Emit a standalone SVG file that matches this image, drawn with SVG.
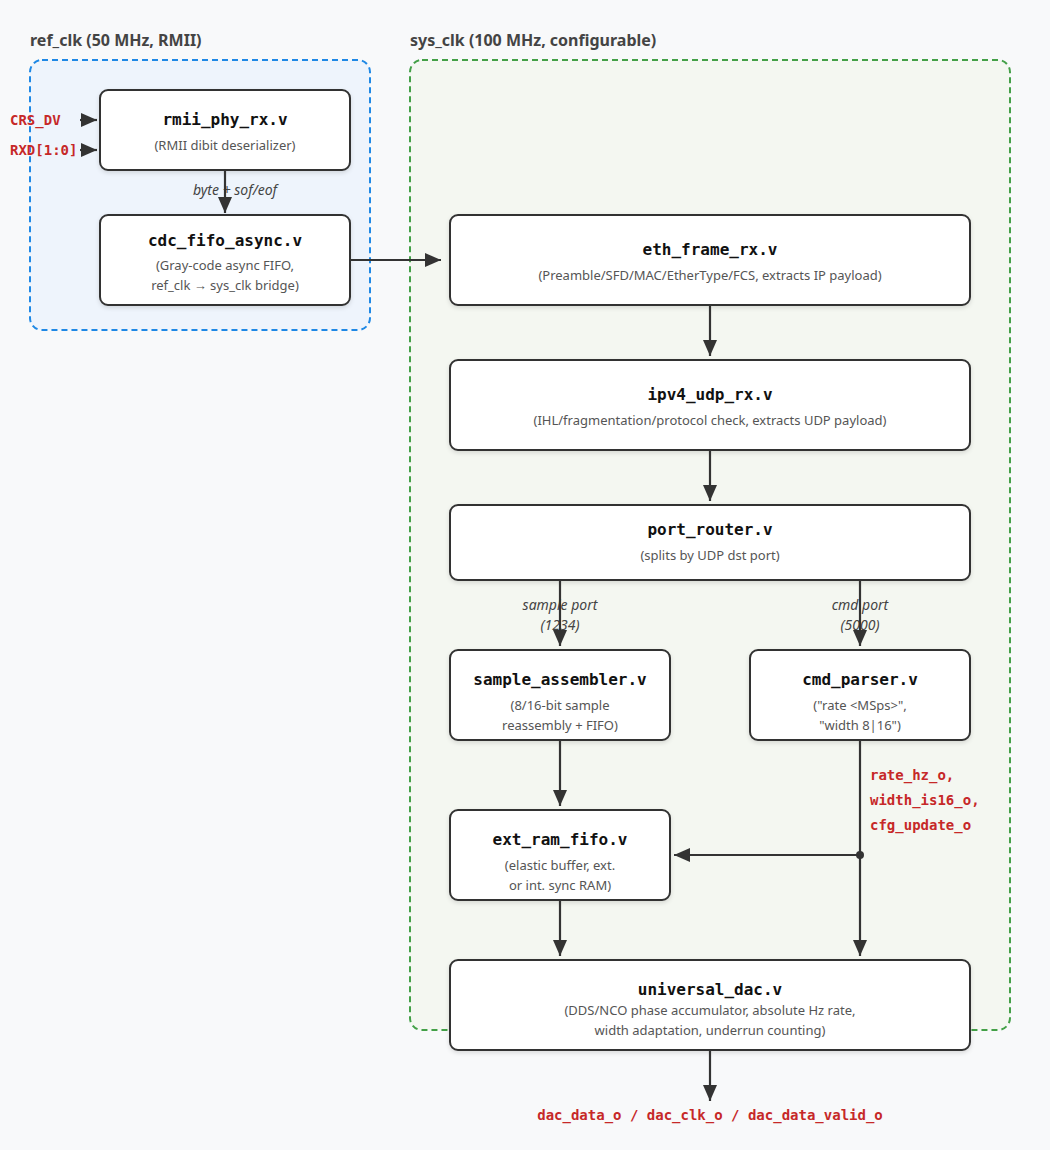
<svg xmlns="http://www.w3.org/2000/svg" width="1050" height="1150" viewBox="0 0 1050 1150">
<defs>
<marker id="arr" viewBox="0 0 16 14" refX="16" refY="7" markerWidth="16" markerHeight="14" markerUnits="userSpaceOnUse" orient="auto">
<path d="M0,0 L16,7 L0,14 z" fill="#333"/>
</marker>
<filter id="sh" x="-10%" y="-10%" width="120%" height="130%">
<feDropShadow dx="0" dy="2" stdDeviation="2" flood-color="#000" flood-opacity="0.12"/>
</filter>
<style>
.cl{font-family:"Noto Sans","Open Sans",sans-serif;font-weight:bold;font-size:16px;fill:#444}
.box{fill:#fff;stroke:#333;stroke-width:2;filter:url(#sh)}
.t{font-family:"DejaVu Sans Mono",monospace;font-weight:bold;font-size:16px;fill:#111;text-anchor:middle}
.s{font-family:"Noto Sans","Open Sans",sans-serif;font-size:13px;fill:#555;text-anchor:middle}
.e{stroke:#333;stroke-width:2.2;fill:none;marker-end:url(#arr)}
.el{font-family:"Noto Sans","Open Sans",sans-serif;font-style:italic;font-size:14px;fill:#444;text-anchor:middle}
.sig{font-family:"DejaVu Sans Mono",monospace;font-weight:bold;font-size:14px;fill:#c62828}
</style>
</defs>
<rect x="0" y="0" width="1050" height="1150" fill="#f8f9fa"/>
<g id="cluster_ref">
<rect x="30" y="60" width="340" height="270" rx="12" fill="#eef4fc" stroke="#1e88e5" stroke-width="2" stroke-dasharray="6,4"/>
<text class="cl" x="30" y="46">ref_clk (50 MHz, RMII)</text>
</g>
<g id="cluster_sys">
<rect x="410" y="60" width="600" height="970" rx="12" fill="#f4f7f1" stroke="#43a047" stroke-width="2" stroke-dasharray="6,4"/>
<text class="cl" x="410" y="46">sys_clk (100 MHz, configurable)</text>
</g>
<g id="rmii_phy_rx">
<rect class="box" x="100" y="90" width="250" height="80" rx="8"/>
<text class="t" x="225" y="125">rmii_phy_rx.v</text>
<text class="s" x="225" y="150">(RMII dibit deserializer)</text>
</g>
<g id="cdc_fifo_async">
<rect class="box" x="100" y="215" width="250" height="90" rx="8"/>
<text class="t" x="225" y="246">cdc_fifo_async.v</text>
<text class="s" x="225" y="270">(Gray-code async FIFO,</text>
<text class="s" x="225" y="290">ref_clk → sys_clk bridge)</text>
</g>
<g id="eth_frame_rx">
<rect class="box" x="450" y="215" width="520" height="90" rx="8"/>
<text class="t" x="710" y="255">eth_frame_rx.v</text>
<text class="s" x="710" y="280">(Preamble/SFD/MAC/EtherType/FCS, extracts IP payload)</text>
</g>
<g id="ipv4_udp_rx">
<rect class="box" x="450" y="360" width="520" height="90" rx="8"/>
<text class="t" x="710" y="400">ipv4_udp_rx.v</text>
<text class="s" x="710" y="425">(IHL/fragmentation/protocol check, extracts UDP payload)</text>
</g>
<g id="port_router">
<rect class="box" x="450" y="505" width="520" height="75" rx="8"/>
<text class="t" x="710" y="535">port_router.v</text>
<text class="s" x="710" y="560">(splits by UDP dst port)</text>
</g>
<g id="sample_assembler">
<rect class="box" x="450" y="650" width="220" height="90" rx="8"/>
<text class="t" x="560" y="685">sample_assembler.v</text>
<text class="s" x="560" y="710">(8/16-bit sample</text>
<text class="s" x="560" y="730">reassembly + FIFO)</text>
</g>
<g id="cmd_parser">
<rect class="box" x="750" y="650" width="220" height="90" rx="8"/>
<text class="t" x="860" y="685">cmd_parser.v</text>
<text class="s" x="860" y="710">("rate &lt;MSps&gt;",</text>
<text class="s" x="860" y="730">"width 8|16")</text>
</g>
<g id="ext_ram_fifo">
<rect class="box" x="450" y="810" width="220" height="90" rx="8"/>
<text class="t" x="560" y="845">ext_ram_fifo.v</text>
<text class="s" x="560" y="870">(elastic buffer, ext.</text>
<text class="s" x="560" y="890">or int. sync RAM)</text>
</g>
<g id="universal_dac">
<rect class="box" x="450" y="960" width="520" height="90" rx="8"/>
<text class="t" x="710" y="995">universal_dac.v</text>
<text class="s" x="710" y="1015">(DDS/NCO phase accumulator, absolute Hz rate,</text>
<text class="s" x="710" y="1035">width adaptation, underrun counting)</text>
</g>
<g id="connectors">
<text class="sig" x="10" y="125">CRS_DV</text>
<text class="sig" x="10" y="155">RXD[1:0]</text>
<path class="e" d="M80,120 H97"/>
<path class="e" d="M80,150 H97"/>
<text class="el" x="235" y="195">byte + sof/eof</text>
<path class="e" d="M225,170 V213"/>
<path class="e" d="M350,260 H441"/>
<path class="e" d="M710,305 V356"/>
<path class="e" d="M710,450 V501"/>
<text class="el" x="560" y="610">sample port</text>
<text class="el" x="560" y="630">(1234)</text>
<path class="e" d="M560,580 V646"/>
<text class="el" x="860" y="610">cmd port</text>
<text class="el" x="860" y="630">(5000)</text>
<path class="e" d="M860,580 V646"/>
<path class="e" d="M560,740 V806"/>
<path class="e" d="M560,900 V956"/>
<path class="e" d="M860,740 V956"/>
<path class="e" d="M860,855 H674"/>
<circle cx="860" cy="855" r="4" fill="#333"/>
<text class="sig" x="870" y="780">rate_hz_o,</text>
<text class="sig" x="870" y="805">width_is16_o,</text>
<text class="sig" x="870" y="830">cfg_update_o</text>
<path class="e" d="M710,1050 V1101"/>
<text class="sig" x="710" y="1120" text-anchor="middle">dac_data_o / dac_clk_o / dac_data_valid_o</text>
</g>
</svg>
